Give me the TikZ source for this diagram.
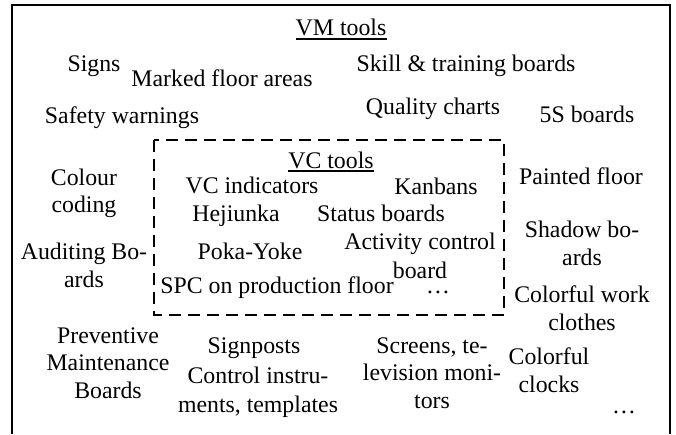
\documentclass[tikz,border=0pt]{standalone}
\usepackage{fontspec}
\setmainfont{Liberation Serif}
\begin{document}
\begin{tikzpicture}[x=1pt,y=-1pt,
  lbl/.style={inner sep=0pt,anchor=base,align=center,font=\fontsize{23.8}{27.5}\selectfont},
  frame/.style={line width=1.5pt},
  vcframe/.style={line width=1.5pt,dash pattern=on 12pt off 7pt},
  uline/.style={line width=1.2pt}]
\useasboundingbox (0,0) rectangle (676,434);
% outer VM frame (open at the bottom)
\draw[frame] (12,434) -- (12,5) -- (670,5) -- (670,434);
% inner VC frame
\draw[vcframe] (154,140) rectangle (504,315);

% VM tools heading
\node[lbl] (vm) at (341,35) {VM tools};
\draw[uline] ([yshift=-4pt]vm.base west) -- ([yshift=-4pt]vm.base east);

% VM tools (multi-line labels are placed by the baseline of their last line)
\node[lbl] (signs) at (94,71) {Signs};
\node[lbl] (marked) at (222,86) {Marked floor areas};
\node[lbl] (skill) at (466,71) {Skill \& training boards};
\node[lbl] (safety) at (122,123) {Safety warnings};
\node[lbl] (quality) at (433,114) {Quality charts};
\node[lbl] (fiveS) at (587,122) {5S boards};
\node[lbl,font=\fontsize{23.8}{26.5}\selectfont] (colour) at (84,212) {Colour\\coding};
\node[lbl] (painted) at (581,184) {Painted floor};
\node[lbl] (audit) at (84,287) {Auditing Bo-\\ards};
\node[lbl] (shadow) at (582,265) {Shadow bo-\\ards};
\node[lbl] (clothes) at (582,330) {Colorful work\\clothes};
\node[lbl] (prevent) at (108,398) {Preventive\\Maintenance\\Boards};
\node[lbl] (signpost) at (254,353) {Signposts};
\node[lbl,font=\fontsize{23.8}{29}\selectfont] (control) at (258,412) {Control instru-\\ments, templates};
\node[lbl] (screens) at (432,408) {Screens, te-\\levision moni-\\tors};
\node[lbl] (clocks) at (549,392) {Colorful\\clocks};
\node[lbl] (vmmore) at (624,413) {\ldots};

% VC tools heading
\node[lbl] (vc) at (331,168) {VC tools};
\draw[uline] ([yshift=-3pt]vc.base west) -- ([yshift=-3pt]vc.base east);

% VC tools
\node[lbl] (vcind) at (252,193) {VC indicators};
\node[lbl] (kanban) at (436,194) {Kanbans};
\node[lbl] (heij) at (236,221) {Hejiunka};
\node[lbl] (status) at (381,221) {Status boards};
\node[lbl,font=\fontsize{23.8}{29}\selectfont] (activity) at (420,278) {Activity control\\board};
\node[lbl] (poka) at (250,259) {Poka-Yoke};
\node[lbl] (spc) at (277,293) {SPC on production floor};
\node[lbl] (vcmore) at (438,293) {\ldots};
\end{tikzpicture}
\end{document}
